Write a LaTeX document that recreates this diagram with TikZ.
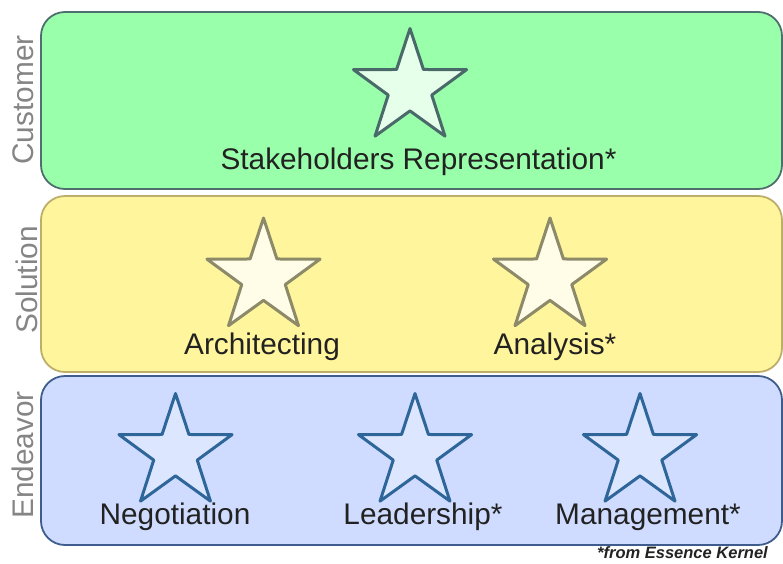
\documentclass[tikz,border=0pt]{standalone}
\usepackage{fontspec}
\setmainfont{Liberation Sans}
\usetikzlibrary{shapes.geometric}
\definecolor{gfill}{HTML}{99FFAA}
\definecolor{gline}{HTML}{4F6E6E}
\definecolor{gsfill}{HTML}{E6FFEA}
\definecolor{gsline}{HTML}{4A6A6A}
\definecolor{yfill}{HTML}{FFF59C}
\definecolor{yline}{HTML}{BDAE6A}
\definecolor{ysfill}{HTML}{FFFCE8}
\definecolor{ysline}{HTML}{8C8A68}
\definecolor{bfill}{HTML}{CFDCFF}
\definecolor{bline}{HTML}{3E5C8C}
\definecolor{bsfill}{HTML}{DDE6FF}
\definecolor{bsline}{HTML}{2F6699}
\definecolor{lblgrey}{HTML}{858585}
\definecolor{txt}{HTML}{222222}
\tikzset{
  band/.style={rounded corners=24pt, line width=1.8pt},
  starshape/.style={star, star points=5, star point ratio=2.6, minimum size=119pt, inner sep=0pt, line width=3pt, line join=round},
  lbl/.style={anchor=base, text=txt, font=\fontsize{29.8}{34}\selectfont, inner sep=0pt},
  side/.style={anchor=base, rotate=90, text=lblgrey, font=\fontsize{29.8}{34}\selectfont, inner sep=0pt},
}
\begin{document}
\begin{tikzpicture}[x=1pt,y=-1pt]
\useasboundingbox (0,0) rectangle (783,563);
% bands
\draw[band, fill=gfill, draw=gline] (41,12) rectangle (782,189);
\draw[band, fill=yfill, draw=yline] (41,196) rectangle (782,372);
\draw[band, fill=bfill, draw=bline] (41,376) rectangle (782,545);
% side labels
\node[side] (cust) at (33,100) {Customer};
\node[side] (sol) at (37.5,280) {Solution};
\node[side] (end) at (33,455) {Endeavor};
% stars
\node[starshape, fill=gsfill, draw=gsline] (s1) at (410,88) {};
\node[starshape, fill=ysfill, draw=ysline] (s2) at (263.5,277.5) {};
\node[starshape, fill=ysfill, draw=ysline] (s3) at (550,277.5) {};
\node[starshape, fill=bsfill, draw=bsline] (s4) at (175.5,453) {};
\node[starshape, fill=bsfill, draw=bsline] (s5) at (415,453) {};
\node[starshape, fill=bsfill, draw=bsline] (s6) at (640,453) {};
% labels
\node[lbl] (t1) at (418.5,169.5) {Stakeholders Representation*};
\node[lbl] (t2) at (262,354) {Architecting};
\node[lbl] (t3) at (555,354) {Analysis*};
\node[lbl] (t4) at (175,524) {Negotiation};
\node[lbl] (t5) at (423,524) {Leadership*};
\node[lbl] (t6) at (648,524) {Management*};
% footnote
\node[anchor=base east, inner sep=0pt, text=txt, font=\fontsize{16.5}{19}\selectfont\bfseries\itshape] (fn) at (768,558) {*from Essence Kernel};
\end{tikzpicture}
\end{document}
